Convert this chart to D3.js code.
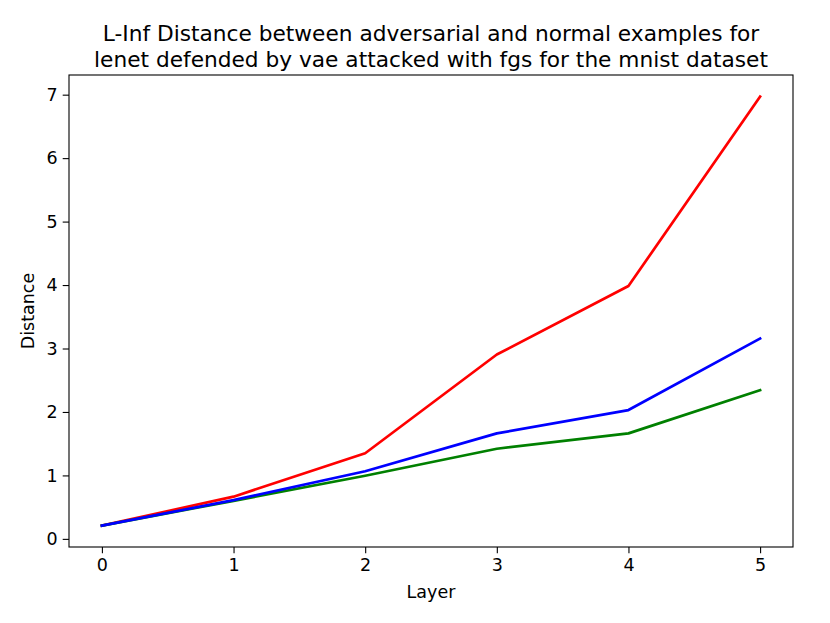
<!DOCTYPE html>
<html>
<head>
<meta charset="utf-8">
<script src="https://cdn.jsdelivr.net/npm/d3@7"></script>
<style>
  body { margin: 0; background: #fff; }
  text { font-family: "DejaVu Sans", sans-serif; fill: #000; }
</style>
</head>
<body>
<svg id="chart" width="830" height="623"></svg>
<script>
// layers on the x axis
var layers = [0, 1, 2, 3, 4, 5];

// distances per layer
var redValues   = [0.21, 0.665, 1.35, 2.905, 3.985, 6.97];
var greenValues = [0.21, 0.60, 0.995, 1.42, 1.663, 2.344];
var blueValues  = [0.21, 0.61, 1.065, 1.663, 2.03, 3.157];

var xTicks = [0, 1, 2, 3, 4, 5];
var yTicks = [0, 1, 2, 3, 4, 5, 6, 7];

var titleLines = [
    "L-Inf Distance between adversarial and normal examples for",
    "lenet defended by vae attacked with fgs for the mnist dataset"
];

var margin = {top: 75, right: 37, bottom: 76, left: 69},
    width = 830 - margin.left - margin.right,
    height = 623 - margin.top - margin.bottom;

var svg = d3.select("#chart");
var g = svg.append("g")
    .attr("transform", "translate(" + margin.left + "," + margin.top + ")");

var x = d3.scaleLinear().domain([-0.25, 5.25]).range([0, width]);
var y = d3.scaleLinear().domain([-0.128, 7.31]).range([height, 0]);

var series = [
    {values: redValues, color: "#ff0000"},
    {values: greenValues, color: "#008000"},
    {values: blueValues, color: "#0000ff"}
];

var line = d3.line()
    .x(function(d, i) { return x(layers[i]); })
    .y(function(d) { return y(d); });

g.selectAll(".series")
    .data(series)
    .enter().append("path")
    .attr("class", "series")
    .attr("d", function(d) { return line(d.values); })
    .attr("fill", "none")
    .attr("stroke", function(d) { return d.color; })
    .attr("stroke-width", 2.7)
    .attr("stroke-linejoin", "round")
    .attr("stroke-linecap", "square");

// axes
var xAxis = g.append("g")
    .attr("transform", "translate(0," + height + ")")
    .call(d3.axisBottom(x).tickValues(xTicks).tickSize(6.3).tickPadding(5).tickFormat(d3.format("d")));

var yAxis = g.append("g")
    .call(d3.axisLeft(y).tickValues(yTicks).tickSize(6.3).tickPadding(5).tickFormat(d3.format("d")));

[xAxis, yAxis].forEach(function(a) {
    a.select(".domain").remove();
    a.selectAll("line").attr("stroke", "#000").attr("stroke-width", 1.1);
    a.selectAll("text").attr("font-size", "17.5px").attr("font-family", "DejaVu Sans");
});

// frame
g.append("rect")
    .attr("width", width)
    .attr("height", height)
    .attr("fill", "none")
    .attr("stroke", "#000")
    .attr("stroke-width", 1.1);

// title
svg.append("text")
    .attr("x", margin.left + width / 2)
    .attr("text-anchor", "middle")
    .attr("font-size", "21.7px")
    .selectAll("tspan")
    .data(titleLines)
    .enter().append("tspan")
    .attr("x", margin.left + width / 2)
    .attr("y", function(d, i) { return 41 + i * 26; })
    .text(function(d) { return d; });

// axis labels
svg.append("text")
    .attr("x", margin.left + width / 2)
    .attr("y", 598)
    .attr("text-anchor", "middle")
    .attr("font-size", "17.5px")
    .text("Layer");

svg.append("text")
    .attr("transform", "translate(34," + (margin.top + height / 2) + ") rotate(-90)")
    .attr("text-anchor", "middle")
    .attr("font-size", "17.5px")
    .text("Distance");
</script>
</body>
</html>
